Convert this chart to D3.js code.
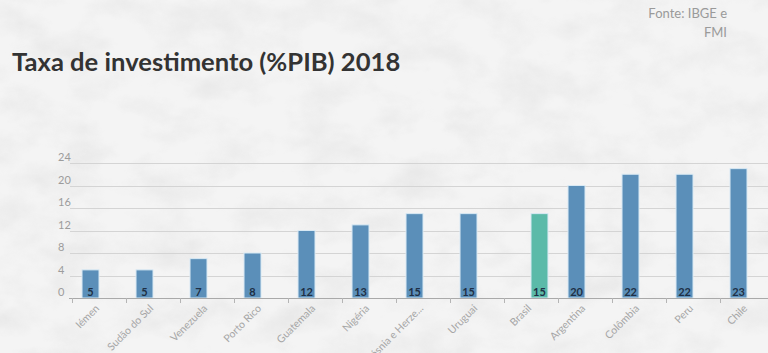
<!DOCTYPE html>
<html>
<head>
<meta charset="utf-8">
<script src="https://cdn.jsdelivr.net/npm/d3@7"></script>
<style>
  html, body { margin: 0; padding: 0; }
  body { width: 768px; height: 353px; overflow: hidden; background: #f3f3f3; font-family: Lato, "Open Sans", sans-serif; }
</style>
</head>
<body>
<div id="chart"></div>
<script>
const categories = ['Iémen', 'Sudão do Sul', 'Venezuela', 'Porto Rico', 'Guatemala', 'Nigéria',
  'Bósnia e Herze...', 'Uruguai', 'Brasil', 'Argentina', 'Colômbia', 'Peru', 'Chile'];
const values = [5, 5, 7, 8, 12, 13, 15, 15, 15, 20, 22, 22, 23];
const seriesNames = ['Outros', 'Brasil'];
const seriesOf = ['Outros', 'Outros', 'Outros', 'Outros', 'Outros', 'Outros',
  'Outros', 'Outros', 'Brasil', 'Outros', 'Outros', 'Outros', 'Outros'];
const yTicks = [0, 4, 8, 12, 16, 20, 24];

const width = 768, height = 353;
const margin = { top: 163, bottom: 55, left: 72 };
const colors = { Outros: '#5b8fb9', Brasil: '#5bbaa9' };

const svg = d3.select('#chart').append('svg')
  .attr('width', width)
  .attr('height', height);

// paper texture background
const defs = svg.append('defs');
const filter = defs.append('filter').attr('id', 'paper')
  .attr('x', 0).attr('y', 0).attr('width', '100%').attr('height', '100%');
filter.append('feTurbulence')
  .attr('type', 'fractalNoise')
  .attr('baseFrequency', '0.02 0.03')
  .attr('numOctaves', 5)
  .attr('seed', 11)
  .attr('result', 'noise');
filter.append('feColorMatrix')
  .attr('type', 'matrix')
  .attr('values', '0 0 0 0 0.6  0 0 0 0 0.6  0 0 0 0 0.6  1.2 1.2 1.2 0 -1.6');
svg.append('rect').attr('width', width).attr('height', height).attr('fill', '#f4f4f4');
svg.append('rect').attr('width', width).attr('height', height)
  .attr('filter', 'url(#paper)').attr('opacity', 0.25);

// title + source
svg.append('text')
  .attr('x', 12).attr('y', 71)
  .attr('font-size', 25.6).attr('font-weight', 700)
  .attr('fill', '#333')
  .text('Taxa de investimento (%PIB) 2018');

const source = svg.append('text')
  .attr('text-anchor', 'end')
  .attr('font-size', 13).attr('fill', '#9a9a9a');
source.append('tspan').attr('x', 727).attr('y', 18).text('Fonte: IBGE e');
source.append('tspan').attr('x', 727).attr('y', 37).text('FMI');

const plotBottom = height - margin.bottom; // 298
const x = d3.scaleBand()
  .domain(categories)
  .range([margin.left, 774])
  .padding(0);

const xs = d3.scaleBand()
  .domain(seriesNames)
  .range([0, x.bandwidth()])
  .paddingInner(0)
  .paddingOuter(0.59);

const y = d3.scaleLinear()
  .domain([0, 24])
  .range([plotBottom, margin.top]);

// grid
const grid = svg.append('g');
grid.selectAll('line')
  .data(yTicks.filter(d => d > 0))
  .enter().append('line')
  .attr('x1', 70).attr('x2', width)
  .attr('y1', d => Math.round(y(d)) + 0.5)
  .attr('y2', d => Math.round(y(d)) + 0.5)
  .attr('stroke', '#d4d4d4');

grid.selectAll('text')
  .data(yTicks)
  .enter().append('text')
  .attr('x', 58)
  .attr('y', d => y(d) - 2)
  .attr('font-size', 11)
  .attr('fill', '#9c9c9c')
  .text(d => d);

// bars
const data = categories.map((c, i) => ({ cat: c, value: values[i], series: seriesOf[i] }));

const bar = svg.selectAll('.bar-group')
  .data(data)
  .enter().append('g')
  .attr('class', 'bar-group')
  .attr('transform', d => `translate(${x(d.cat)},0)`);

bar.append('rect')
  .attr('x', d => xs(d.series))
  .attr('y', d => y(d.value))
  .attr('width', xs.bandwidth())
  .attr('height', d => plotBottom - y(d.value))
  .attr('fill', d => colors[d.series])
  .attr('stroke', '#d8e9f4')
  .attr('stroke-width', 1);

bar.append('text')
  .attr('x', d => xs(d.series) + xs.bandwidth() / 2)
  .attr('y', plotBottom - 2)
  .attr('text-anchor', 'middle')
  .attr('font-size', 11)
  .attr('font-weight', 700)
  .attr('fill', '#1e2f45')
  .text(d => d.value);

// x axis
const axis = svg.append('g');
axis.append('line')
  .attr('x1', 69).attr('x2', width)
  .attr('y1', plotBottom + 0.5).attr('y2', plotBottom + 0.5)
  .attr('stroke', '#a9a9a9');

axis.selectAll('.tick')
  .data(categories)
  .enter().append('line')
  .attr('class', 'tick')
  .attr('x1', d => Math.round(x(d)) + 0.5)
  .attr('x2', d => Math.round(x(d)) + 0.5)
  .attr('y1', plotBottom)
  .attr('y2', plotBottom + 5)
  .attr('stroke', '#b5b5b5');

axis.selectAll('.label')
  .data(categories)
  .enter().append('text')
  .attr('class', 'label')
  .attr('transform', d => `translate(${x(d) + x.bandwidth() / 2 + 1},${plotBottom + 11}) rotate(-45)`)
  .attr('text-anchor', 'end')
  .attr('font-size', 10.5)
  .attr('fill', '#a6a6a6')
  .text(d => d);
</script>
</body>
</html>
